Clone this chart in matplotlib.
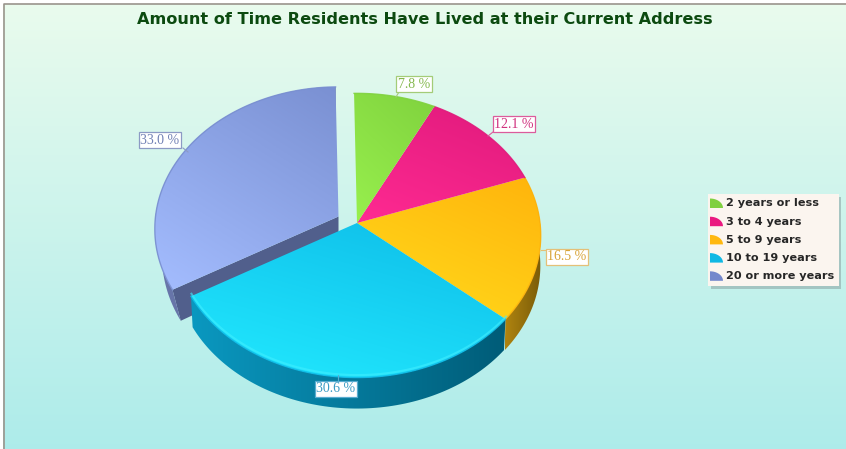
import numpy as np
import matplotlib
matplotlib.use("Agg")
import matplotlib.pyplot as plt
from matplotlib.patches import Polygon, Rectangle

title = "Amount of Time Residents Have Lived at their Current Address"
categories = ["2 years or less", "3 to 4 years", "5 to 9 years", "10 to 19 years", "20 or more years"]
values = [7.8, 12.1, 16.5, 30.6, 33.0]

# light end, dark end of each slice gradient, then wall colours
top_light = ["#98f04e", "#ff2a92", "#ffdc1c", "#22eaff", "#a4bdff"]
top_dark = ["#80d23e", "#e01a7c", "#ffb40c", "#0ebce8", "#7a90d2"]
wall_light = ["#5c8c2c", "#9c1054", "#b08410", "#0a98c0", "#6a78ac"]
wall_dark = ["#4c7424", "#7c0c44", "#7a5c08", "#005c78", "#505c8c"]
label_col = ["#a4cc78", "#dc5c9c", "#e4c078", "#58acd0", "#8c9ac4"]
text_col = ["#84b84e", "#d0307e", "#d8a438", "#3c9cc4", "#7080b4"]
label_xy = [(414, 84), (514, 124), (567, 257), (336, 389), (160, 140)]
leader_xy = [((399, 92), (396, 97)), ((493, 132), (488, 136)), ((546, 250), (541, 250)),
             ((338, 381), (338, 375)), ((183, 148), (188, 152))]
legend_col = ["#7fd03f", "#ea1a80", "#ffb80f", "#10b8e4", "#7488cc"]

W, H = 846, 449
apex = (357.0, 223.0)
blue_apex = (338.5, 216.5)
R, S, K = 183.0, 141.0, 0.0877
DEPTH = 31
wall_scale = [(1, 1), (1, 1), (1, 0.995), (0.99, 0.99), (0.95, 1.0)]


def project(ang, center):
    # clockwise degrees from the top of the pie, seen in perspective
    a = np.radians(ang)
    u, v = np.sin(a), np.cos(a)
    w = 1 + K * v
    return center[0] + R * u / w, center[1] - S * v / w


def grad_fill(ax, verts, c_light, c_dark, angle=60):
    poly = Polygon(verts, closed=True, fc="none", ec="none")
    ax.add_patch(poly)
    c0, c1 = matplotlib.colors.to_rgb(c_light), matplotlib.colors.to_rgb(c_dark)
    xs, ys = verts[:, 0], verts[:, 1]
    x0, x1, y0, y1 = xs.min(), xs.max(), ys.min(), ys.max()
    gx, gy = np.meshgrid(np.linspace(0, 1, 120), np.linspace(0, 1, 120))
    t = gx * np.cos(np.radians(angle)) + (1 - gy) * np.sin(np.radians(angle))
    t = (t / t.max())[..., None]
    img = np.array(c0) * (1 - t) + np.array(c1) * t
    im = ax.imshow(img, extent=(x0, x1, y1, y0), aspect="auto")
    im.set_clip_path(poly)
    return im


fig = plt.figure(figsize=(W / 100, H / 100), dpi=100)
ax = fig.add_axes([0, 0, 1, 1])

bg = np.linspace(0, 1, 200)[:, None, None]
bg = np.array([0.915, 0.985, 0.93]) * (1 - bg) + np.array([0.68, 0.925, 0.92]) * bg
ax.imshow(bg, extent=(3, 846, 449, 4), aspect="auto", zorder=0)
ax.plot([3.5, 3.5, 846], [449, 3.5, 3.5], color="#9a948c", lw=1.2, zorder=1)

edges = np.concatenate([[0], np.cumsum(values)]) * 3.6 - 1

# blue slice first, it sits behind the others
draw_order = [4, 2, 1, 0, 3]
for i in draw_order:
    a0, a1 = edges[i], edges[i + 1]
    c = blue_apex if i == 4 else apex
    angs = np.linspace(a0, a1, 90)
    px, py = project(angs, c)
    qx = c[0] + (px - c[0]) * np.linspace(*wall_scale[i], 90)
    qy = py + DEPTH
    if i == 4:
        # inner wall along the cut towards the cyan slice
        wall = np.array([c, (c[0], c[1] + DEPTH), (qx[0], qy[0]), (px[0], py[0])])
        ax.add_patch(Polygon(wall, fc="#515f8c", ec="none", zorder=2))
    if i >= 2:
        rim = np.column_stack([np.r_[px, qx[::-1]], np.r_[py, qy[::-1]]])
        grad_fill(ax, rim, wall_light[i], wall_dark[i], angle=0).set_zorder(2)
    top = np.vstack([[c], np.column_stack([px, py])])
    grad_fill(ax, top, top_light[i], top_dark[i]).set_zorder(3)
    ax.plot(px, py, color=top_dark[i], lw=1.0, zorder=3, alpha=0.9)
    if i == 3:
        ax.plot(px + 0.5, py - 2.5, color="#40eeff", lw=1.5, alpha=0.6, zorder=3)

for i, lab in enumerate(label_xy):
    ax.plot(*zip(*leader_xy[i]), color=label_col[i], lw=0.8, zorder=5)
    ax.text(lab[0], lab[1], f"{values[i]:.1f} %", family="Liberation Serif", fontsize=10,
            color=text_col[i], ha="center", va="center", zorder=6,
            bbox=dict(boxstyle="square,pad=0.12", fc="white", ec=label_col[i], lw=0.9))

ax.text(425, 20, title, fontsize=11.65, fontweight="bold", color="#0c4a10", ha="center", va="center", zorder=6)

# legend
ax.add_patch(Rectangle((711, 197), 130, 92, fc="#8fa8a8", ec="none", alpha=0.6, zorder=4))
ax.add_patch(Rectangle((708, 194), 131, 92, fc="#fbf5ef", ec="none", zorder=5))
for i, name in enumerate(categories):
    y = 203.5 + i * 18.2
    sw = [(710, y + 4.5)]
    for t in np.linspace(0, np.pi / 2, 12):
        sw.append((710 + 13 * np.sin(t), y + 4.5 - 9.5 * np.cos(t)))
    ax.add_patch(Polygon(sw, fc=legend_col[i], ec="none", zorder=6))
    ax.text(726, y, name, fontsize=8.15, fontweight="bold", color="#262626", ha="left", va="center", zorder=6)

ax.set_xlim(0, W)
ax.set_ylim(H, 0)
ax.axis("off")
fig.savefig("out.png", dpi=100)
